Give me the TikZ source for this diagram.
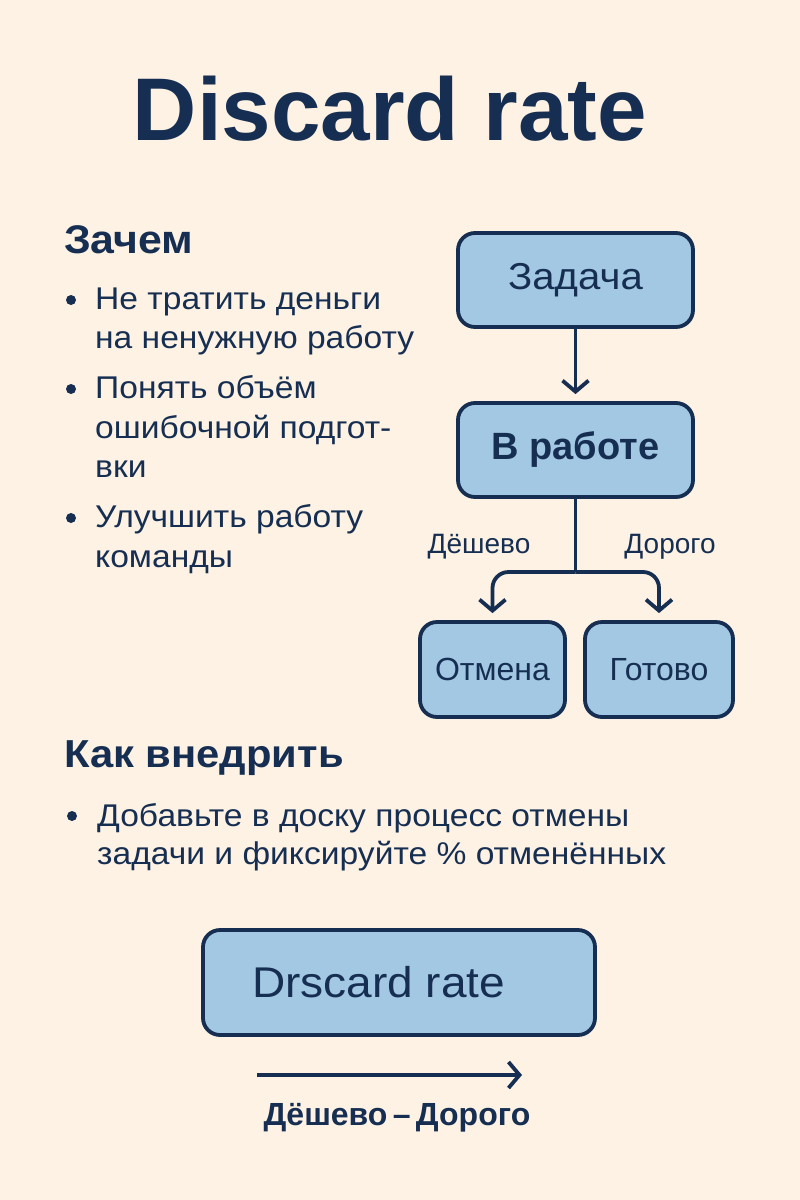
\documentclass[tikz,border=0pt]{standalone}
\usepackage{fontspec}
\setmainfont{Liberation Sans}
\newfontfamily\widefont{Liberation Sans}[FakeStretch=1.07]
\usetikzlibrary{arrows.meta}
\definecolor{bgc}{RGB}{253,242,227}
\definecolor{boxfill}{RGB}{162,200,227}
\definecolor{navy}{RGB}{22,46,82}
\tikzset{
  flowbox/.style={draw=navy, line width=3.8pt, fill=boxfill, rounded corners=17pt, text=navy, inner sep=0pt},
  txt/.style={text=navy, inner sep=0pt, anchor=base west},
  bul/.style={fill=navy, draw=none, circle, inner sep=0pt, minimum size=10pt},
  conn/.style={draw=navy, line width=3.8pt},
  arr/.style={conn, -{Straight Barb[length=11pt,width=26pt,line width=3.8pt]}},
  fbody/.style={font=\widefont\fontsize{31.4}{38}\selectfont},
}
\begin{document}
\begin{tikzpicture}[x=1pt,y=-1pt]
\fill[bgc] (0,0) rectangle (800,1200);
\useasboundingbox (0,0) rectangle (800,1200);

% title
\node[text=navy, inner sep=0pt, anchor=base, font=\fontsize{89}{100}\selectfont\bfseries] (title) at (390,140) {Discard rate};

% Зачем
\node[txt, font=\widefont\fontsize{40}{44}\selectfont\bfseries] (h1) at (64,253) {Зачем};
\node[bul] (b1) at (71,300) {};
\node[txt, fbody] (l1) at (95,309) {Не тратить деньги};
\node[txt, fbody] (l2) at (95,348) {на ненужную работу};
\node[bul] (b2) at (71,389) {};
\node[txt, fbody] (l3) at (95,398) {Понять объём};
\node[txt, fbody] (l4) at (95,438) {ошибочной подгот-};
\node[txt, fbody] (l5) at (95,477) {вки};
\node[bul] (b3) at (71,518) {};
\node[txt, fbody] (l6) at (95,527) {Улучшить работу};
\node[txt, fbody] (l7) at (95,567) {команды};

% flow
\node[flowbox, minimum width=235pt, minimum height=94pt, font=\widefont\fontsize{37.5}{44}\selectfont] (zad) at (575.5,280) {Задача};
\node[flowbox, minimum width=235pt, minimum height=94pt, font=\fontsize{38}{44}\selectfont\bfseries] (rab) at (575.5,450) {В работе};
\node[flowbox, minimum width=145pt, minimum height=95pt, font=\fontsize{32}{38}\selectfont] (otm) at (492.5,669.5) {Отмена};
\node[flowbox, minimum width=148pt, minimum height=95pt, font=\fontsize{32}{38}\selectfont] (got) at (659,669.5) {Готово};

\draw[arr, shorten >=7pt] (zad.south) -- (rab.north);
\coordinate (br) at (575.5,572);
\draw[conn] (rab.south) -- (br);
\draw[arr, rounded corners=16pt, shorten >=7pt] (br) -| (otm.north);
\draw[arr, rounded corners=16pt, shorten >=7pt] (br) -| (got.north);

\node[text=navy, inner sep=0pt, anchor=base, font=\fontsize{28}{32}\selectfont] (lc) at (479,553) {Дёшево};
\node[text=navy, inner sep=0pt, anchor=base, font=\fontsize{28}{32}\selectfont] (le) at (670,553) {Дорого};

% Как внедрить
\node[txt, font=\widefont\fontsize{39}{44}\selectfont\bfseries] (h2) at (64,767) {Как внедрить};
\node[bul] (b4) at (72,816) {};
\node[txt, fbody] (m1) at (97,826) {Добавьте в доску процесс отмены};
\node[txt, fbody] (m2) at (97,864) {задачи и фиксируйте \% отменённых};

% bottom box
\node[flowbox, minimum width=392pt, minimum height=105pt] (dbox) at (399,982.5) {};
\node[txt, font=\widefont\fontsize{43}{48}\selectfont] (dtext) at (252,997) {Drscard rate};

\coordinate (s1) at (257,1075);
\coordinate (s2) at (522,1075);
\draw[arr] (s1) -- (s2);
\node[text=navy, inner sep=0pt, anchor=base, font=\fontsize{32}{38}\selectfont\bfseries] (scale) at (397,1125) {Дёшево\,–\,Дорого};
\end{tikzpicture}
\end{document}
